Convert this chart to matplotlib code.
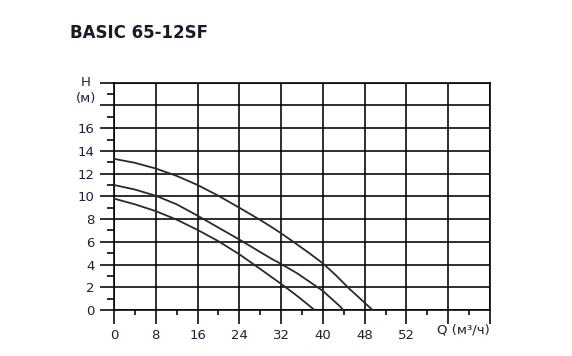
import matplotlib
matplotlib.use("Agg")
import matplotlib.pyplot as plt
from matplotlib.ticker import MultipleLocator, FixedLocator

title = "BASIC 65-12SF"
x_ticks = [0, 8, 16, 24, 32, 40, 48, 56, 64, 72]
x_labels = ["0", "8", "16", "24", "32", "40", "48", "52", "", ""]
y_ticks = [0, 2, 4, 6, 8, 10, 12, 14, 16, 18, 20]
y_labels = ["0", "2", "4", "6", "8", "10", "12", "14", "16", "", ""]

q_top = [0, 4, 8, 12, 16, 20, 24, 28, 30, 32, 34.5, 37.4, 40, 42.5, 45, 46.9, 48.2, 49.5]
h_top = [13.3, 12.95, 12.45, 11.8, 11.0, 10.05, 9.0, 7.92, 7.35, 6.75, 5.95, 5.0, 4.1, 3.05, 1.9, 1.1, 0.55, 0.0]

q_mid = [0, 4, 8, 12, 16, 20, 24, 28, 30, 32, 35, 37.4, 40, 42, 43.2, 43.9]
h_mid = [11.0, 10.6, 10.05, 9.3, 8.3, 7.25, 6.2, 5.1, 4.55, 4.05, 3.25, 2.5, 1.68, 0.85, 0.35, 0.0]

q_low = [0, 4, 8, 12, 16, 20, 24, 28.2, 30, 32, 34.9, 36.8, 38.4]
h_low = [9.8, 9.3, 8.7, 7.95, 7.05, 6.05, 4.9, 3.55, 2.95, 2.3, 1.3, 0.6, 0.0]

W, H = 572, 356
fig = plt.figure(figsize=(W / 100, H / 100), dpi=100)
ax = fig.add_axes([114 / W, 1 - 310 / H, (490 - 114) / W, (310 - 82.7) / H])

txt_color = "#1e1e38"
lw = 1.15

for q, h in [(q_top, h_top), (q_mid, h_mid), (q_low, h_low)]:
    ax.plot(q, h, color="#2a2a2a", lw=1.3, solid_capstyle="butt",
            solid_joinstyle="round", zorder=3)

ax.set_xlim(0, 72)
ax.set_ylim(0, 20)
ax.xaxis.set_major_locator(FixedLocator(x_ticks))
ax.set_xticklabels(x_labels)
ax.yaxis.set_major_locator(FixedLocator(y_ticks))
ax.set_yticklabels(y_labels)
ax.xaxis.set_minor_locator(MultipleLocator(4))
ax.yaxis.set_minor_locator(MultipleLocator(1))

ax.grid(True, which="major", color="black", lw=lw)
for s in ax.spines.values():
    s.set_linewidth(lw)
    s.set_color("black")

ax.tick_params(which="major", length=10, width=lw, color="black",
               labelsize=9.5, labelcolor=txt_color, pad=3.5)
ax.tick_params(axis="y", which="major", pad=4)
ax.tick_params(axis="x", which="minor", length=3.5, width=lw, color="black")
ax.tick_params(axis="y", which="minor", length=5, width=lw, color="black")

fig.text(70 / W, 1 - 32.5 / H, title, fontsize=12, fontweight="bold",
         color="#1a1a2a", ha="left", va="center")
fig.text(86 / W, 1 - 83 / H, "H", fontsize=9.5, color=txt_color, ha="center", va="center")
fig.text(86 / W, 1 - 98.5 / H, "(м)", fontsize=9.5, color=txt_color, ha="center", va="center")
fig.text(437 / W, 1 - 330 / H, "Q (м³/ч)", fontsize=9.5, color=txt_color, ha="left", va="center")

fig.savefig("out.png", dpi=100)
